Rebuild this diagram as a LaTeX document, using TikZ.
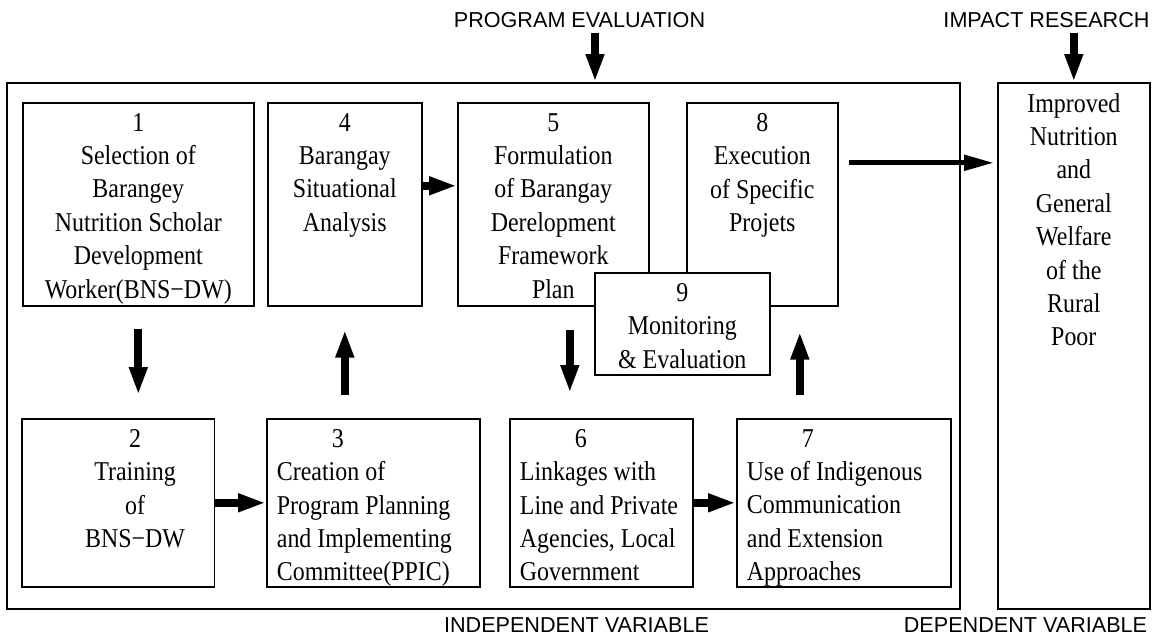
\documentclass[tikz,border=0pt]{standalone}
\usepackage{fontspec}
\usepackage{xcolor}
\usepackage{tikz}
\usetikzlibrary{positioning, arrows.meta}
\newfontfamily\boxfont[FakeStretch=0.88]{Liberation Serif}
\newfontfamily\labfont{Liberation Sans}

\begin{document}
\begin{tikzpicture}[
    x = 0.5pt, y = -0.5pt,
    box/.style = {draw, line width=0.8pt, fill=white, inner sep=0pt, anchor=north west},
    txt/.style = {inner sep=0pt, font=\boxfont\fontsize{13.6}{16.7}\selectfont},
    lab/.style = {inner sep=0pt, font=\labfont\fontsize{10.8}{13}\selectfont},
    fat/.style = {line width=4pt, -{Triangle[length=14pt, width=8.5pt]}},
    slim/.style = {line width=2.5pt, -{Triangle[length=15pt, width=7.5pt]}}
  ]
    \useasboundingbox (0,0) rectangle (1157,637);

    \node[box, minimum width=476.5pt, minimum height=263pt] (indep) at (6,82) {};  % 自变量框
    \node[box, minimum width=76pt, minimum height=263pt] (dep) at (997,82) {};  % 因变量框

    \node[box, minimum width=115.5pt, minimum height=101.5pt] (b1) at (22,102) {};
    \node[box, minimum width=77pt, minimum height=101.5pt] (b4) at (267,102) {};
    \node[box, minimum width=95.5pt, minimum height=101.5pt] (b5) at (457,102) {};
    \node[box, minimum width=75.5pt, minimum height=101.5pt] (b8) at (686,102) {};
    \node[box, minimum width=87.5pt, minimum height=51pt] (b9) at (594,272) {};  % 盖在 5 和 8 上面
    \node[box, minimum width=96.25pt, minimum height=84pt] (b2) at (21,418) {};
    \node[box, minimum width=106.5pt, minimum height=84pt] (b3) at (266,418) {};
    \node[box, minimum width=91.5pt, minimum height=84pt] (b6) at (509,418) {};
    \node[box, minimum width=107pt, minimum height=84pt] (b7) at (736,418) {};

    % 框内文字
    \node[txt, align=center, below=5.4pt of b1.north] (t1) {1\\Selection of\\Barangey\\Nutrition Scholar\\Development\\Worker(BNS−DW)};
    \node[txt, align=center, below=5.4pt of b4.north] (t4) {4\\Barangay\\Situational\\Analysis};
    \node[txt, align=center, below=5.4pt of b5.north] (t5) {5\\Formulation\\of Barangay\\Derelopment\\Framework\\Plan};
    \node[txt, align=center, below=5.4pt of b8.north] (t8) {8\\Execution\\of Specific\\Projets};
    \node[txt, align=center, below=5.4pt of b9.north] (t9) {9\\Monitoring\\\& Evaluation};
    \node[txt, align=center, below=5.4pt of b2.north, xshift=8.5pt] (t2) {2\\Training\\of\\BNS−DW};
    \node[txt, align=left, below right=5.4pt and 5.25pt of b3.north west] (t3) {\hspace*{27.5pt}3\\Creation of\\Program Planning\\and Implementing\\Committee(PPIC)};
    \node[txt, align=left, below right=5.4pt and 5.25pt of b6.north west] (t6) {\hspace*{27.5pt}6\\Linkages with\\Line and Private\\Agencies, Local\\Government};
    \node[txt, align=left, below right=5.4pt and 5.25pt of b7.north west] (t7) {\hspace*{27.5pt}7\\Use of Indigenous\\Communication\\and Extension\\Approaches};
    \node[txt, align=center, below=5.4pt of dep.north] (td) {Improved\\Nutrition\\and\\General\\Welfare\\of the\\Rural\\Poor};

    % 标题
    \node[lab] (pe) at (579.5,20) {PROGRAM EVALUATION};
    \node[lab] (ir) at (1046.5,20) {IMPACT RESEARCH};
    \node[lab] (il) at (576.5,625) {INDEPENDENT VARIABLE};
    \node[lab] (dl) at (1025.5,625) {DEPENDENT VARIABLE};

    % 箭头
    \draw[fat, shorten <=2.5pt] ([xshift=7.75pt]pe.south) -- ([xshift=7.75pt]pe.south |- indep.north);
    \draw[fat, shorten <=2.5pt] (ir.south -| dep.north) -- (dep.north);
    \draw[fat, shorten <=11pt, shorten >=11.5pt] (b1.south) -- (b1.south |- b2.north);
    \draw[fat] (b2.east) -- (b3.west);
    \draw[fat, shorten <=11.5pt, shorten >=11.5pt] (b4.south |- b3.north) -- (b4.south);
    \draw[fat] ([yshift=9.25pt]b4.east) -- ([yshift=9.25pt]b4.east -| b5.west);
    \draw[fat, shorten <=11.5pt, shorten >=12.5pt] ([xshift=8.25pt]b5.south) -- ([xshift=8.25pt]b5.south |- b6.north);
    \draw[fat] (b6.east) -- (b7.west);
    \draw[fat, shorten <=11.5pt, shorten >=12.5pt] ([xshift=18.75pt]b8.south |- b7.north) -- ([xshift=18.75pt]b8.south);
    \draw[slim, shorten <=5pt, shorten >=1.5pt] ([yshift=20.75pt]b8.east) -- ([yshift=20.75pt]b8.east -| dep.west);
\end{tikzpicture}
\end{document}
